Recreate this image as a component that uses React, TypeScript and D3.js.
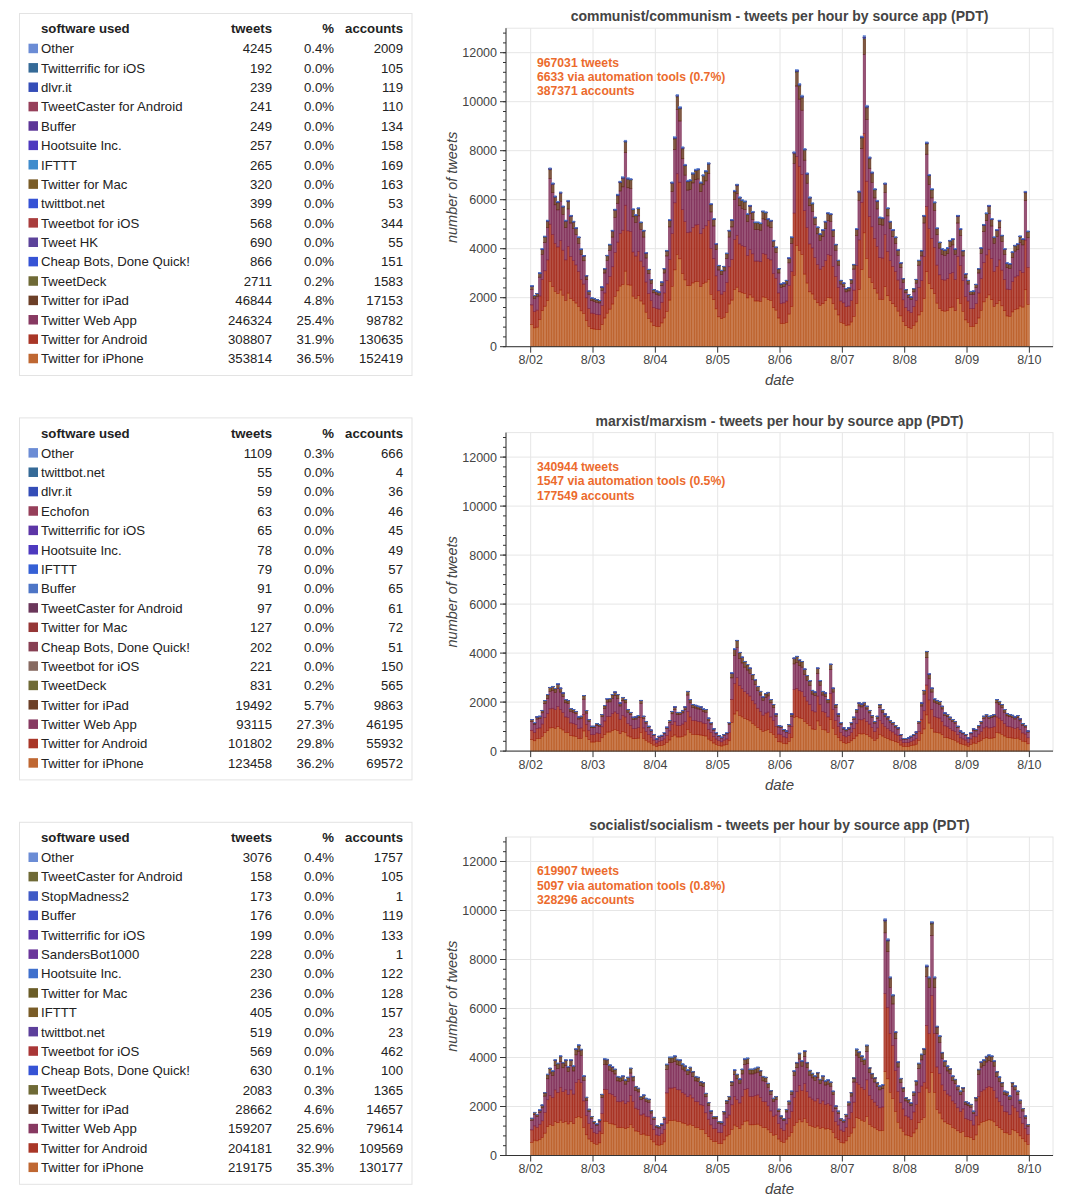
import React from "react";
import * as d3 from "d3";

// ---------- shared tick labels ----------
const DAY_LABELS = ["8/02", "8/03", "8/04", "8/05", "8/06", "8/07", "8/08", "8/09", "8/10"];
const Y_TICKS = [0, 2000, 4000, 6000, 8000, 10000, 12000];

// ---------- hourly totals (tweets per hour, 8/02 00:00 .. 8/09 23:00 PDT) ----------
const COMMUNISM_HOURLY = [
  2490, 2100, 2180, 3020, 4010, 4520, 5170, 7300, 6690, 6160, 5940, 6320, 5750, 5170, 5980, 5370, 5130, 4870, 4490, 4000, 3730, 2910, 2280, 2000,
  1970, 1930, 1900, 2450, 3200, 3740, 4190, 4760, 5620, 6230, 6760, 6940, 8430, 6900, 6870, 5640, 5400, 5680, 5100, 4760, 3850, 3170, 2750, 2340,
  2280, 2240, 2650, 3200, 3940, 5200, 6730, 8570, 10300, 9800, 8160, 7450, 6800, 6830, 7110, 7250, 7280, 6730, 7030, 7200, 7520, 5850, 5240, 4220,
  3330, 3130, 3290, 3830, 4760, 5200, 6390, 6640, 6120, 6010, 5960, 5440, 5780, 5530, 5100, 5100, 5060, 5550, 5510, 5240, 5170, 4350, 4080, 3200,
  2580, 2610, 2720, 3640, 4490, 7960, 11320, 10750, 10270, 8100, 7100, 6120, 5880, 5300, 4900, 4620, 4790, 5130, 5480, 5440, 4790, 4190, 3540, 2720,
  2610, 2380, 2420, 2750, 3370, 4830, 6360, 8600, 12700, 9860, 7750, 7140, 6460, 5980, 5300, 5280, 6690, 5680, 5130, 4790, 4490, 3970, 3440, 2790,
  2340, 2140, 2040, 2380, 2760, 3540, 3940, 5370, 8360, 7040, 6460, 5920, 4860, 4280, 4010, 3970, 4050, 4350, 4420, 4010, 5370, 4830, 3940, 2990,
  2720, 2270, 2280, 2560, 3200, 4050, 5000, 5470, 5780, 5240, 4490, 4790, 5170, 4560, 4010, 3430, 3400, 3880, 4150, 4220, 4530, 4420, 6350, 4730,
];

const MARXISM_HOURLY = [
  1290, 1160, 1400, 1430, 1670, 2070, 2310, 2610, 2650, 2560, 2750, 2580, 2380, 2110, 2070, 1740, 1700, 1630, 1400, 1430, 2270, 1660, 1290, 1020,
  1020, 1120, 1090, 1500, 1860, 2140, 2150, 2310, 2420, 2310, 1970, 2200, 2110, 1700, 1590, 1390, 1400, 1460, 2080, 1430, 1220, 1020, 860, 680,
  500, 610, 650, 750, 980, 1250, 1630, 1810, 1590, 1590, 1670, 1810, 2450, 2110, 1900, 1880, 1840, 1810, 1730, 1700, 1350, 1160, 910, 750,
  640, 570, 680, 750, 1160, 3200, 4180, 4530, 4040, 3850, 3670, 3540, 3400, 3130, 2920, 2650, 2450, 2220, 2350, 2410, 2110, 1900, 1520, 1050,
  1020, 880, 820, 1090, 1520, 3810, 3880, 3740, 3670, 3360, 3090, 2880, 2490, 2420, 3400, 2880, 2450, 2380, 2110, 3560, 2580, 1900, 1520, 1160,
  950, 880, 950, 1160, 1390, 1700, 1970, 1930, 2000, 1840, 1670, 1460, 1220, 1430, 1900, 1700, 1520, 1400, 1260, 1180, 1050, 950, 680, 520,
  520, 540, 610, 680, 780, 1220, 1970, 2490, 4080, 3160, 2580, 2140, 2080, 2040, 1840, 1560, 1500, 1390, 1290, 1220, 1020, 820, 750, 680,
  540, 750, 910, 880, 1050, 1220, 1430, 1500, 1430, 1460, 1500, 2110, 2040, 1900, 1700, 1540, 1500, 1470, 1400, 1460, 1320, 1120, 1050, 820,
];

const SOCIALISM_HOURLY = [
  1530, 1770, 1690, 1870, 2070, 2580, 3330, 3580, 3470, 3920, 3780, 4080, 3810, 3920, 3640, 3920, 3670, 4370, 4530, 4350, 3260, 2390, 1900, 1600,
  1390, 1300, 1460, 2510, 3960, 3940, 3710, 3640, 3540, 3240, 3210, 3260, 3100, 3210, 3580, 3240, 2830, 2760, 2420, 2480, 2350, 2310, 1840, 1570,
  1230, 1190, 1300, 1570, 3740, 4030, 4030, 4080, 3940, 3920, 3750, 3670, 3510, 3620, 3440, 3240, 3210, 3030, 2990, 2550, 2170, 1830, 1600, 1600,
  1390, 1370, 1800, 2250, 2420, 3030, 3510, 3330, 3140, 3540, 3960, 3990, 3540, 3540, 3580, 3620, 3480, 3240, 3210, 2960, 2660, 2350, 2420, 1900,
  1620, 1510, 1890, 2230, 2640, 3470, 3810, 4190, 3880, 4290, 3810, 3490, 3370, 3260, 3400, 3120, 3260, 3060, 3100, 3010, 2640, 2030, 1820, 1520,
  1450, 1690, 2190, 2580, 3190, 4360, 4250, 4080, 3950, 4520, 3600, 3360, 3190, 2990, 2850, 2900, 9670, 8850, 7300, 6580, 5070, 3840, 3160, 2780,
  2370, 2300, 2160, 2600, 3060, 3780, 4150, 4380, 7780, 7300, 9560, 7300, 5290, 4900, 4220, 3880, 3670, 3560, 3260, 3120, 2850, 2640, 2780, 2210,
  2160, 2100, 1820, 2370, 3530, 3840, 3920, 4060, 4120, 4080, 3880, 3440, 3220, 2990, 2640, 2600, 2440, 2990, 2850, 2640, 2270, 1930, 1620, 1270,
];

// ---------- tables ----------
const COMMUNISM_APPS = ["Other", "Twitterrific for iOS", "dlvr.it", "TweetCaster for Android", "Buffer", "Hootsuite Inc.", "IFTTT", "Twitter for Mac", "twittbot.net", "Tweetbot for iOS", "Tweet HK", "Cheap Bots, Done Quick!", "TweetDeck", "Twitter for iPad", "Twitter Web App", "Twitter for Android", "Twitter for iPhone"];
const COMMUNISM_TWEETS = [4245, 192, 239, 241, 249, 257, 265, 320, 399, 568, 690, 866, 2711, 46844, 246324, 308807, 353814];
const COMMUNISM_PCT = ["0.4%", "0.0%", "0.0%", "0.0%", "0.0%", "0.0%", "0.0%", "0.0%", "0.0%", "0.0%", "0.0%", "0.0%", "0.2%", "4.8%", "25.4%", "31.9%", "36.5%"];
const COMMUNISM_ACCOUNTS = [2009, 105, 119, 110, 134, 158, 169, 163, 53, 344, 55, 151, 1583, 17153, 98782, 130635, 152419];
const COMMUNISM_SUMMARY = ["967031 tweets", "6633 via automation tools (0.7%)", "387371 accounts"];

const MARXISM_APPS = ["Other", "twittbot.net", "dlvr.it", "Echofon", "Twitterrific for iOS", "Hootsuite Inc.", "IFTTT", "Buffer", "TweetCaster for Android", "Twitter for Mac", "Cheap Bots, Done Quick!", "Tweetbot for iOS", "TweetDeck", "Twitter for iPad", "Twitter Web App", "Twitter for Android", "Twitter for iPhone"];
const MARXISM_TWEETS = [1109, 55, 59, 63, 65, 78, 79, 91, 97, 127, 202, 221, 831, 19492, 93115, 101802, 123458];
const MARXISM_PCT = ["0.3%", "0.0%", "0.0%", "0.0%", "0.0%", "0.0%", "0.0%", "0.0%", "0.0%", "0.0%", "0.0%", "0.0%", "0.2%", "5.7%", "27.3%", "29.8%", "36.2%"];
const MARXISM_ACCOUNTS = [666, 4, 36, 46, 45, 49, 57, 65, 61, 72, 51, 150, 565, 9863, 46195, 55932, 69572];
const MARXISM_SUMMARY = ["340944 tweets", "1547 via automation tools (0.5%)", "177549 accounts"];

const SOCIALISM_APPS = ["Other", "TweetCaster for Android", "StopMadness2", "Buffer", "Twitterrific for iOS", "SandersBot1000", "Hootsuite Inc.", "Twitter for Mac", "IFTTT", "twittbot.net", "Tweetbot for iOS", "Cheap Bots, Done Quick!", "TweetDeck", "Twitter for iPad", "Twitter Web App", "Twitter for Android", "Twitter for iPhone"];
const SOCIALISM_TWEETS = [3076, 158, 173, 176, 199, 228, 230, 236, 405, 519, 569, 630, 2083, 28662, 159207, 204181, 219175];
const SOCIALISM_PCT = ["0.4%", "0.0%", "0.0%", "0.0%", "0.0%", "0.0%", "0.0%", "0.0%", "0.0%", "0.0%", "0.0%", "0.1%", "0.3%", "4.6%", "25.6%", "32.9%", "35.3%"];
const SOCIALISM_ACCOUNTS = [1757, 105, 1, 119, 133, 1, 122, 128, 157, 23, 462, 100, 1365, 14657, 79614, 109569, 130177];
const SOCIALISM_SUMMARY = ["619907 tweets", "5097 via automation tools (0.8%)", "328296 accounts"];

// ---------- colours (style) ----------
const COMMUNISM_COLORS = ["#5b7fd0", "#1f5a8c", "#1e3aaf", "#8b2a48", "#4a1f8c", "#3a24b8", "#2a7fc8", "#6b4a10", "#1f3fd0", "#a02828", "#4a2f8f", "#2040d0", "#5f5a20", "#5c2a10", "#7a2450", "#a02010", "#b8561c"];
const MARXISM_COLORS = ["#5b7fd0", "#1f5a8c", "#1e3aaf", "#8b2a48", "#4a1f9c", "#3a24b8", "#1f4fd0", "#3a66c0", "#5a2048", "#8a2020", "#7a2a40", "#7a5a50", "#5f5a20", "#5c2a10", "#7a2450", "#a02010", "#b8561c"];
const SOCIALISM_COLORS = ["#5b7fd0", "#5f5a20", "#2a48c0", "#2a3ac0", "#4a20a0", "#5a2090", "#2a60c8", "#5a4a10", "#6a4a10", "#4a2a90", "#a02020", "#2040d0", "#5f5a20", "#5c2a10", "#7a2450", "#a02010", "#b8561c"];

const FONT = "'Liberation Sans', Arial, Helvetica, sans-serif";
const TEXT = "#444";
const ROW_STEP = 404.4;
const BASE_ZERO = 346.7;

type PanelProps = {
  row: number;
  title: string;
  hourly: number[];
  apps: string[];
  tweets: number[];
  pct: string[];
  accounts: number[];
  colors: string[];
  summary: string[];
};

function Table({ row, apps, tweets, pct, accounts, colors }: PanelProps) {
  const off = row * ROW_STEP;
  const headerY = 33.3 + off;
  return (
    <g fontFamily={FONT} fontSize={13.2} fill="#222">
      <rect x={19.5} y={13.5 + off} width={392.5} height={362} fill="#fff" stroke="#e3e3e3" strokeWidth={1} />
      <g fontWeight="bold">
        <text x={41} y={headerY}>software used</text>
        <text x={272} y={headerY} textAnchor="end">tweets</text>
        <text x={334} y={headerY} textAnchor="end">%</text>
        <text x={403} y={headerY} textAnchor="end">accounts</text>
      </g>
      {apps.map((a, i) => {
        const y = 53.3 + off + i * 19.38;
        return (
          <g key={a + i}>
            <rect x={28.5} y={y - 9.6} width={9.5} height={9.5} fill={colors[i]} opacity={0.9} />
            <text x={41} y={y}>{a}</text>
            <text x={272} y={y} textAnchor="end">{tweets[i]}</text>
            <text x={334} y={y} textAnchor="end">{pct[i]}</text>
            <text x={403} y={y} textAnchor="end">{accounts[i]}</text>
          </g>
        );
      })}
    </g>
  );
}

function Chart({ row, title, hourly, apps, tweets, colors, summary }: PanelProps) {
  const off = row * ROW_STEP;
  const zeroY = BASE_ZERO + off;
  const x = d3.scaleLinear().domain([-9.5, 201.1]).range([506, 1053]);
  const y = d3.scaleLinear().domain([0, 13000]).range([zeroY, zeroY - 318.5]);
  const top = y(13000);
  const total = d3.sum(tweets);
  // stack bottom = last table row (Twitter for iPhone)
  const order = apps.map((_, i) => i).reverse();
  const keys = order.map((i) => apps[i]);
  const rows = hourly.map((v, h) => {
    const r: Record<string, number> = { h };
    apps.forEach((a, i) => {
      r[a] = (v * tweets[i]) / total;
    });
    return r;
  });
  const series = d3.stack<Record<string, number>>().keys(keys)(rows);
  const dayTicks = DAY_LABELS.map((_, i) => i * 24);
  const minor = d3.range(0, 13000, 400);
  const bw = x(1) - x(0);

  return (
    <g fontFamily={FONT}>
      {/* grid */}
      {dayTicks.map((t) => (
        <line key={"gx" + t} x1={x(t)} x2={x(t)} y1={top} y2={zeroY} stroke="#e6e6e6" strokeWidth={1} />
      ))}
      {Y_TICKS.map((t) => (
        <line key={"gy" + t} x1={506} x2={1053} y1={y(t)} y2={y(t)} stroke="#e6e6e6" strokeWidth={1} />
      ))}
      <rect x={506} y={top} width={547} height={zeroY - top} fill="none" stroke="#e6e6e6" strokeWidth={1} />
      {/* bars */}
      {series.map((s, si) => {
        const ci = order[si];
        const c = colors[ci];
        return (
          <g key={s.key} fill={c} fillOpacity={0.78} stroke={c} strokeWidth={0.5}>
            {s.map((d, h) => (
              <rect key={h} x={x(h)} y={y(d[1])} width={bw} height={Math.max(0, y(d[0]) - y(d[1]))} />
            ))}
          </g>
        );
      })}
      {/* summary */}
      <g fill="#ec6b2d" fontWeight="bold" fontSize={12.2}>
        {summary.map((s, i) => (
          <text key={s} x={537} y={top + 38.3 + i * 14.4}>{s}</text>
        ))}
      </g>
      {/* y axis */}
      <line x1={506} x2={506} y1={top} y2={zeroY} stroke="#333" strokeWidth={1} />
      {minor.map((t) => (
        <line key={"ym" + t} x1={503} x2={506} y1={y(t)} y2={y(t)} stroke="#333" strokeWidth={1} />
      ))}
      {Y_TICKS.map((t) => (
        <g key={"yt" + t}>
          <line x1={500} x2={506} y1={y(t)} y2={y(t)} stroke="#333" strokeWidth={1} />
          <text x={497} y={y(t) + 4.4} textAnchor="end" fontSize={12.5} fill={TEXT}>{t}</text>
        </g>
      ))}
      {/* x axis */}
      <line x1={506} x2={1053} y1={zeroY} y2={zeroY} stroke="#333" strokeWidth={1} />
      {dayTicks.map((t, i) => (
        <g key={"xt" + t}>
          <line x1={x(t)} x2={x(t)} y1={zeroY} y2={zeroY + 6} stroke="#333" strokeWidth={1} />
          <text x={x(t)} y={zeroY + 17.5} textAnchor="middle" fontSize={12.5} fill={TEXT}>{DAY_LABELS[i]}</text>
        </g>
      ))}
      {/* labels */}
      <text x={779.5} y={top - 7} textAnchor="middle" fontSize={14} fontWeight="bold" fill={TEXT}>{title}</text>
      <text x={779.5} y={zeroY + 38.5} textAnchor="middle" fontSize={15} fontStyle="italic" fill={TEXT}>date</text>
      <text transform={`translate(457,${(top + zeroY) / 2}) rotate(-90)`} textAnchor="middle" fontSize={14.5} fontStyle="italic" fill={TEXT}>number of tweets</text>
    </g>
  );
}

const PANELS: PanelProps[] = [
  { row: 0, title: "communist/communism - tweets per hour by source app (PDT)", hourly: COMMUNISM_HOURLY, apps: COMMUNISM_APPS, tweets: COMMUNISM_TWEETS, pct: COMMUNISM_PCT, accounts: COMMUNISM_ACCOUNTS, colors: COMMUNISM_COLORS, summary: COMMUNISM_SUMMARY },
  { row: 1, title: "marxist/marxism - tweets per hour by source app (PDT)", hourly: MARXISM_HOURLY, apps: MARXISM_APPS, tweets: MARXISM_TWEETS, pct: MARXISM_PCT, accounts: MARXISM_ACCOUNTS, colors: MARXISM_COLORS, summary: MARXISM_SUMMARY },
  { row: 2, title: "socialist/socialism - tweets per hour by source app (PDT)", hourly: SOCIALISM_HOURLY, apps: SOCIALISM_APPS, tweets: SOCIALISM_TWEETS, pct: SOCIALISM_PCT, accounts: SOCIALISM_ACCOUNTS, colors: SOCIALISM_COLORS, summary: SOCIALISM_SUMMARY },
];

export default function App() {
  return (
    <svg width={1082} height={1200} style={{ position: "absolute", left: 0, top: 0, background: "#fff" }}>
      <rect x={0} y={0} width={1082} height={1200} fill="#fff" />
      {PANELS.map((p) => (
        <g key={p.row}>
          <Table {...p} />
          <Chart {...p} />
        </g>
      ))}
    </svg>
  );
}
